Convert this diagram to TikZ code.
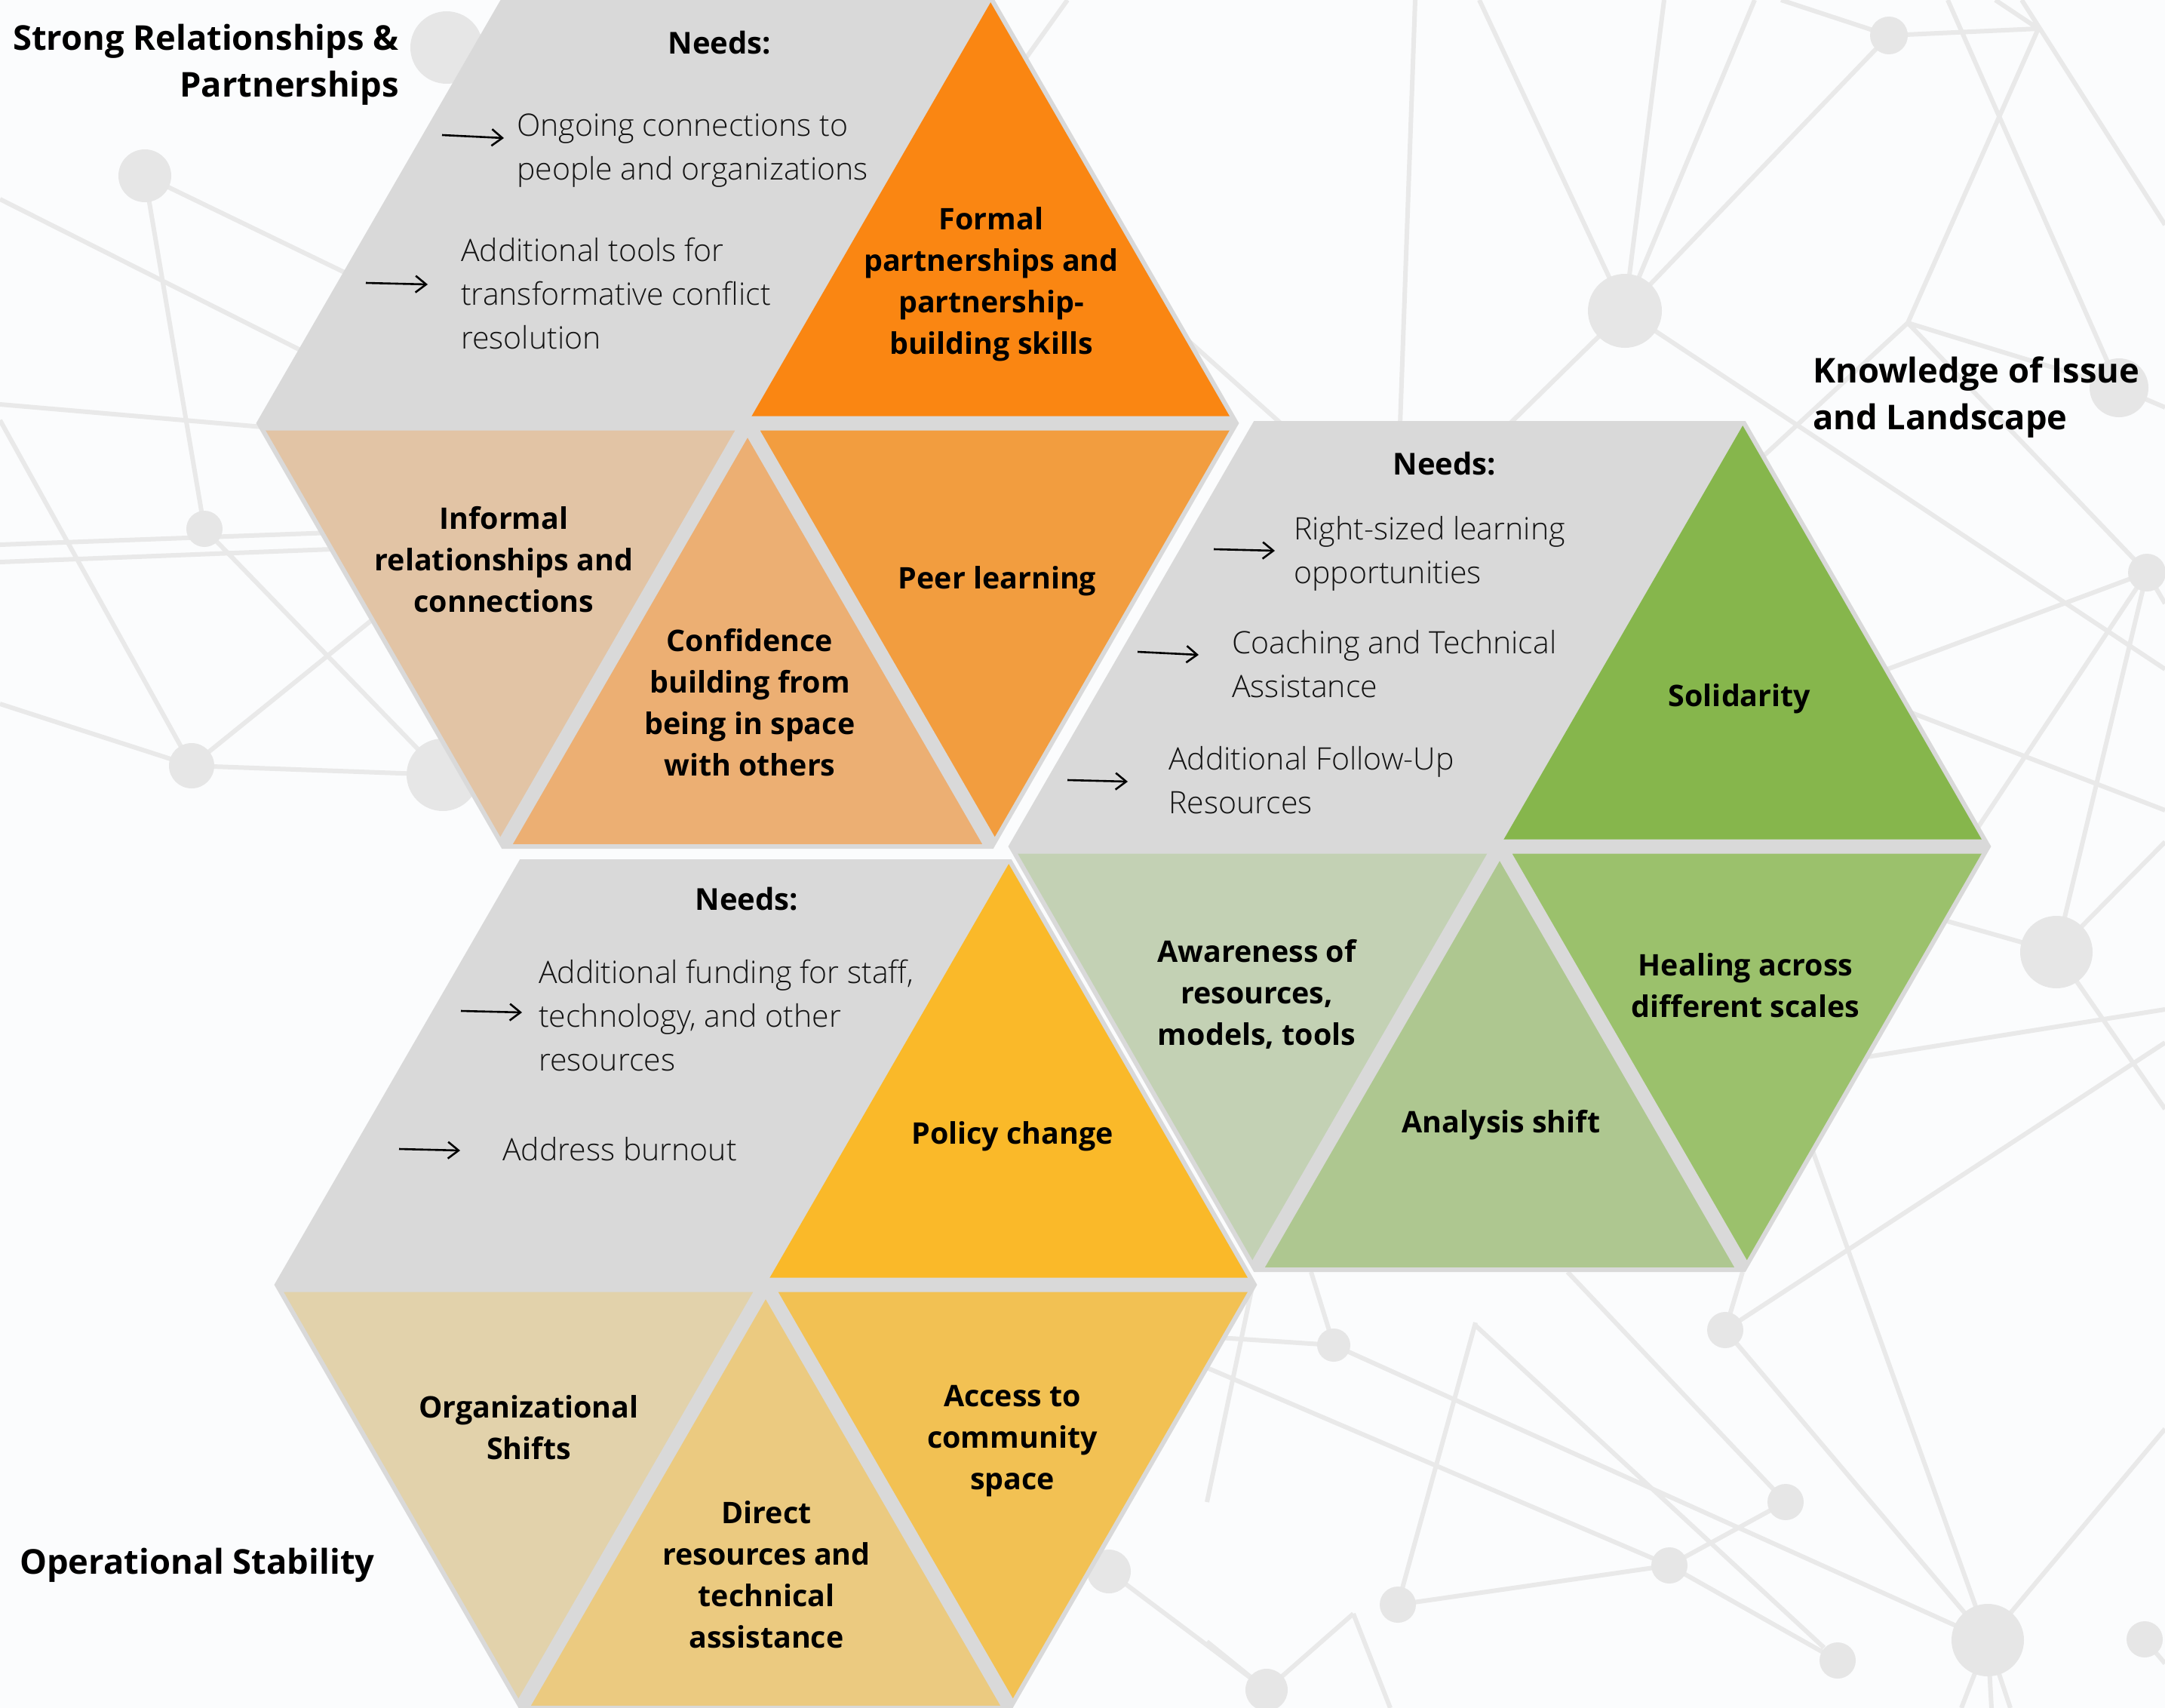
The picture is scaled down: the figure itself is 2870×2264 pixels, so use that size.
\documentclass[tikz,border=0pt]{standalone}
\usepackage{fontspec}
\setmainfont{Open Sans}
\newfontfamily\lightfont{Open Sans Light}
\usetikzlibrary{arrows.meta,calc}

\definecolor{bgpaper}{HTML}{FBFCFD}
\definecolor{netgray}{HTML}{E9E9E9}
\definecolor{dotgray}{HTML}{E6E6E6}
\definecolor{hexgray}{HTML}{D9D9D9}
\definecolor{cFormal}{HTML}{FA8612}
\definecolor{cPeer}{HTML}{F29D3F}
\definecolor{cConf}{HTML}{ECAF73}
\definecolor{cInformal}{HTML}{E2C4A5}
\definecolor{cSolid}{HTML}{86B64C}
\definecolor{cHeal}{HTML}{9BC16C}
\definecolor{cAnalysis}{HTML}{AEC790}
\definecolor{cAware}{HTML}{C3D1B4}
\definecolor{cPolicy}{HTML}{FAB929}
\definecolor{cAccess}{HTML}{F2C153}
\definecolor{cDirect}{HTML}{EBCA80}
\definecolor{cOrg}{HTML}{E2D2AB}

% corner points of a flat-topped hexagon: prefix, centre x, centre y
\newcommand\hexpts[3]{%
  \coordinate (#1C)  at (#2,#3);
  \coordinate (#1L)  at ({#2-648},#3);
  \coordinate (#1R)  at ({#2+648},#3);
  \coordinate (#1TL) at ({#2-324},{#3-561});
  \coordinate (#1TR) at ({#2+324},{#3-561});
  \coordinate (#1BL) at ({#2-324},{#3+561});
  \coordinate (#1BR) at ({#2+324},{#3+561});
}

\tikzset{
  net/.style={draw=netgray, line width=6pt},
  gapline/.style={draw=hexgray, line width=19pt},
  rim/.style={draw=hexgray, line width=6pt},
  lbl/.style={font=\bfseries\fontsize{39.4}{55}\selectfont, align=center, inner sep=0pt},
  needs/.style={font=\bfseries\fontsize{40}{55}\selectfont, inner sep=0pt},
  item/.style={font=\lightfont\fontsize{41}{58}\selectfont, align=left, anchor=west,
               inner sep=0pt, text=black!92},
  title/.style={font=\bfseries\fontsize{45.3}{62}\selectfont, inner sep=0pt},
  needarrow/.style={-{Straight Barb[length=14pt,width=22pt]}, line width=2.6pt},
}

\begin{document}
\begin{tikzpicture}[x=1pt,y=-1pt]
\useasboundingbox (0,0) rectangle (2870,2264);
\fill[bgpaper] (0,0) rectangle (2870,2264);

% ---- background network ----
\draw[net]
  (192,233)--(620,440) (192,233)--(271,701) (0,264)--(430,480)
  (0,536)--(360,567) (0,722)--(440,706) (0,745)--(440,728)
  (0,557)--(254,1015) (271,701)--(587,1027) (0,933)--(254,1015)
  (254,1015)--(520,800) (254,1015)--(587,1027)
  (1415,0)--(1360,77) (1540,420)--(1700,563)
  (1876,0)--(1856,563) (1961,0)--(2154,412) (2206,0)--(2154,412)
  (2326,0)--(2154,412) (2361,0)--(2504,47) (2504,47)--(2702,38)
  (2582,0)--(2809,514) (2645,0)--(2702,38) (2680,0)--(2870,298)
  (2702,38)--(2529,428) (2154,412)--(2504,47) (2154,412)--(2000,563)
  (2154,412)--(2870,887)
  (2529,428)--(2809,514) (2529,428)--(2335,607) (2529,428)--(2846,759)
  (2846,759)--(2400,925) (2846,759)--(2600,1130) (2846,759)--(2870,800)
  (2846,759)--(2726,1262) (2506,934)--(2870,1074) (2809,514)--(2870,540)
  (2726,1262)--(2560,1215) (2726,1262)--(2870,1116) (2726,1262)--(2870,1470)
  (2475,1401)--(2870,1338)
  (1738,1686)--(1768,1783) (1600,1772)--(1768,1783) (1768,1783)--(2635,2174)
  (1600,1813)--(2213,2075) (2213,2075)--(2436,2201)
  (1956,1753)--(1853,2127) (1956,1757)--(2418,2184)
  (1853,2127)--(2213,2075) (2213,2075)--(2367,1991) (2078,1686)--(2367,1991)
  (2287,1763)--(2310,1686) (2287,1763)--(2870,1382) (2287,1763)--(2635,2174)
  (2402,1523)--(2635,2174) (2635,2174)--(2870,1894)
  (2635,2174)--(2600,2264) (2635,2174)--(2640,2264) (2635,2174)--(2665,2264)
  (1679,2240)--(1794,2139) (1794,2139)--(1843,2264) (1600,2176)--(1679,2240)
  (1661,1701)--(1600,1991) (2843,2173)--(2870,2205) (1470,2083)--(1679,2240);
\fill[dotgray] (592,63) circle[radius=48] (192,233) circle[radius=35]
  (271,701) circle[radius=24] (254,1015) circle[radius=30] (587,1027) circle[radius=48]
  (2154,412) circle[radius=49] (2504,47) circle[radius=25] (2809,514) circle[radius=39]
  (2846,759) circle[radius=25] (2726,1262) circle[radius=48] (2287,1763) circle[radius=24]
  (1768,1783) circle[radius=22] (2367,1991) circle[radius=24] (2213,2075) circle[radius=24]
  (1853,2127) circle[radius=24] (2635,2174) circle[radius=48] (2436,2201) circle[radius=24]
  (2843,2173) circle[radius=24] (1679,2240) circle[radius=28] (1470,2083) circle[radius=29];

% ---- hexagon A: relationships ----
\hexpts{a}{991}{561}
\begin{scope}
  \clip (aL)--(aTL)--(aTR)--(aR)--(aBR)--(aBL)--cycle;
  \fill[hexgray] (aL)--(aTL)--(aTR)--(aR)--(aBR)--(aBL)--cycle;
  \fill[cFormal]   (aC)--(aTR)--(aR)--cycle;
  \fill[cInformal] (aL)--(aC)--(aBL)--cycle;
  \fill[cConf]     (aC)--(aBL)--(aBR)--cycle;
  \fill[cPeer]     (aC)--(aR)--(aBR)--cycle;
  \draw[gapline] (aL)--(aR) (aC)--(aBL) (aC)--(aBR);
\end{scope}
\draw[rim] (aL)--(aTL)--(aTR)--(aR)--(aBR)--(aBL)--cycle;

% ---- hexagon B: knowledge ----
\hexpts{b}{1988}{1122}
\begin{scope}
  \clip (bL)--(bTL)--(bTR)--(bR)--(bBR)--(bBL)--cycle;
  \fill[hexgray] (bL)--(bTL)--(bTR)--(bR)--(bBR)--(bBL)--cycle;
  \fill[cSolid]    (bC)--(bTR)--(bR)--cycle;
  \fill[cAware]    (bL)--(bC)--(bBL)--cycle;
  \fill[cAnalysis] (bC)--(bBL)--(bBR)--cycle;
  \fill[cHeal]     (bC)--(bR)--(bBR)--cycle;
  \draw[gapline] (bL)--(bR) (bC)--(bBL) (bC)--(bBR);
\end{scope}
\draw[rim] (bL)--(bTL)--(bTR)--(bR)--(bBR)--(bBL)--cycle;

% ---- hexagon C: operations ----
\hexpts{c}{1015}{1703}
\begin{scope}
  \clip (cL)--(cTL)--(cTR)--(cR)--(cBR)--(cBL)--cycle;
  \fill[hexgray] (cL)--(cTL)--(cTR)--(cR)--(cBR)--(cBL)--cycle;
  \fill[cPolicy] (cC)--(cTR)--(cR)--cycle;
  \fill[cOrg]    (cL)--(cC)--(cBL)--cycle;
  \fill[cDirect] (cC)--(cBL)--(cBR)--cycle;
  \fill[cAccess] (cC)--(cR)--(cBR)--cycle;
  \draw[gapline] (cL)--(cR) (cC)--(cBL) (cC)--(cBR);
\end{scope}
\draw[rim] (cL)--(cTL)--(cTR)--(cR)--(cBR)--(cBL)--cycle;

% ---- texts, hexagon A ----
\node[needs] (needsA) at (954,57) {Needs:};
\node[item] (a1) at (685,200) {Ongoing connections to\\people and organizations};
\node[item] (a2) at (611,389) {Additional tools for\\transformative conflict\\resolution};
\node[lbl] (formal) at (1314,377) {Formal\\partnerships and\\partnership-\\building skills};
\node[lbl] (informal) at (668,742) {Informal\\relationships and\\connections};
\node[lbl] (confid) at (994,931) {Confidence\\building from\\being in space\\with others};
\node[lbl] (peer) at (1322,770) {Peer learning};

% ---- texts, hexagon B ----
\node[needs] (needsB) at (1915,615) {Needs:};
\node[item] (b1) at (1715,734) {Right-sized learning\\opportunities};
\node[item] (b2) at (1633,880) {Coaching and Technical\\Assistance};
\node[item] (b3) at (1549,1034) {Additional Follow-Up\\Resources};
\node[lbl] (solid) at (2306,926) {Solidarity};
\node[lbl] (aware) at (1666,1318) {Awareness of\\resources,\\models, tools};
\node[lbl] (analysis) at (1990,1491) {Analysis shift};
\node[lbl] (healing) at (2314,1306) {Healing across\\different scales};

% ---- texts, hexagon C ----
\node[needs] (needsC) at (990,1192) {Needs:};
\node[item] (c1) at (714,1346) {Additional funding for staff,\\technology, and other\\resources};
\node[item] (c2) at (666,1523) {Address burnout};
\node[lbl] (policy) at (1342,1506) {Policy change};
\node[lbl] (orgsh) at (701,1892) {Organizational\\Shifts};
\node[lbl] (direct) at (1016,2087) {Direct\\resources and\\technical\\assistance};
\node[lbl] (access) at (1342,1910) {Access to\\community\\space};

% ---- need arrows ----
\draw[needarrow] ($(a1.west)+(-99,-21)$) -- ($(a1.west)+(-17,-17)$);
\draw[needarrow] ($(a2.west)+(-126,-14)$) -- ($(a2.west)+(-44,-12)$);
\draw[needarrow] ($(b1.west)+(-106,-6)$) -- ($(b1.west)+(-25,-4)$);
\draw[needarrow] ($(b2.west)+(-125,-16)$) -- ($(b2.west)+(-44,-12)$);
\draw[needarrow] ($(b3.west)+(-134,0)$) -- ($(b3.west)+(-54,2)$);
\draw[needarrow] ($(c1.west)+(-103,-6)$) -- ($(c1.west)+(-22,-4)$);
\draw[needarrow] ($(c2.west)+(-137,0)$) -- ($(c2.west)+(-56,2)$);

% ---- area titles ----
\node[title, align=right, anchor=east] (tA) at (529,86) {Strong Relationships \&\\Partnerships};
\node[title, align=left, anchor=west] (tB) at (2403,527) {Knowledge of Issue\\and Landscape};
\node[title, anchor=west] (tC) at (26,2075) {Operational Stability};
\end{tikzpicture}
\end{document}
